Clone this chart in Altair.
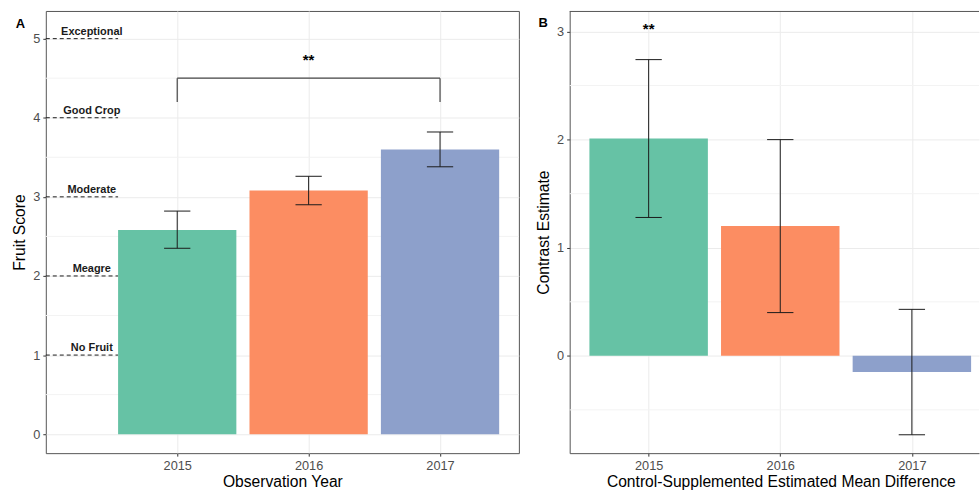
import altair as alt
import pandas as pd

# ---- data -------------------------------------------------------------
years = [2015, 2016, 2017]
bar_colors = ["#66c2a5", "#fc8d62", "#8da0cb"]

# Panel A: fruit score by observation year (mean with interval)
fruit_mean = [2.58, 3.08, 3.60]
fruit_lo = [2.35, 2.90, 3.38]
fruit_hi = [2.82, 3.26, 3.82]

# Panel B: control - supplemented contrast estimates
contrast_est = [2.01, 1.20, -0.15]
contrast_lo = [1.28, 0.40, -0.73]
contrast_hi = [2.74, 2.00, 0.43]

# Fruit score reference levels
level_values = [1, 2, 3, 4, 5]
level_names = ["No Fruit", "Meagre", "Moderate", "Good Crop", "Exceptional"]

# Significance bracket (panel A) and star marks
bracket_years = [2015, 2017]
bracket_top = 4.5
bracket_foot = 4.2
star_a = {"year": 2016, "y": 4.67}
star_b = {"year": 2015, "y": 2.98}

minor_a = [0.5, 1.5, 2.5, 3.5, 4.5]
minor_b = [-0.5, 0.5, 1.5, 2.5]

# ---- styling constants --------------------------------------------------
FONT = "Liberation Sans"
BAR_HALF = 0.45
CAP_HALF = 0.1
MINOR_COLOR = "#f3f3f3"
FRAME = "#555555"

df_a = pd.DataFrame({"year": years, "mean": fruit_mean, "lo": fruit_lo, "hi": fruit_hi})
df_b = pd.DataFrame({"year": years, "mean": contrast_est, "lo": contrast_lo, "hi": contrast_hi})
df_levels = pd.DataFrame({"level": level_values, "name": level_names})

color_scale = alt.Scale(domain=years, range=bar_colors)


def bar_layers(df, x_scale, y_scale, x_axis, y_axis):
    base = alt.Chart(df).transform_calculate(
        x0=f"datum.year - {BAR_HALF}",
        x1=f"datum.year + {BAR_HALF}",
        c0=f"datum.year - {CAP_HALF}",
        c1=f"datum.year + {CAP_HALF}",
        zero="0",
    )
    bars = base.mark_rect().encode(
        x=alt.X("x0:Q", scale=x_scale, axis=x_axis),
        x2="x1:Q",
        y=alt.Y("mean:Q", scale=y_scale, axis=y_axis),
        y2="zero:Q",
        color=alt.Color("year:N", scale=color_scale, legend=None),
    )
    stem = base.mark_rule(color="#1a1a1a", strokeWidth=1).encode(
        x="year:Q", y="lo:Q", y2="hi:Q"
    )
    cap_lo = base.mark_rule(color="#1a1a1a", strokeWidth=1).encode(
        x="c0:Q", x2="c1:Q", y="lo:Q"
    )
    cap_hi = base.mark_rule(color="#1a1a1a", strokeWidth=1).encode(
        x="c0:Q", x2="c1:Q", y="hi:Q"
    )
    return bars, stem, cap_lo, cap_hi


def minor_grid(values):
    return alt.Chart(pd.DataFrame({"v": values})).mark_rule(
        color=MINOR_COLOR, strokeWidth=1
    ).encode(y="v:Q")


def panel_tag(letter, dx, dy):
    return alt.Chart(pd.DataFrame({"t": [letter]})).mark_text(
        font=FONT, fontSize=13, fontWeight="bold", align="center",
        baseline="alphabetic", color="black",
    ).encode(x=alt.value(dx), y=alt.value(dy), text="t:N")


# ---- panel A -------------------------------------------------------------
xs_a = alt.Scale(domain=[2014.0, 2017.6], nice=False, zero=False)
ys_a = alt.Scale(domain=[-0.24, 5.35], nice=False, zero=False)
xax_a = alt.Axis(title="Observation Year", values=years, format="d", grid=True,
                 domain=False)
yax_a = alt.Axis(title="Fruit Score", values=level_values + [0], format="d",
                 grid=True, domain=False)

bars_a, stem_a, lo_a, hi_a = bar_layers(df_a, xs_a, ys_a, xax_a, yax_a)

levels_base = alt.Chart(df_levels).transform_calculate(
    x0="2014.0",
    x1=f"2015 - {BAR_HALF}",
    tx="2014.35",
    ty="datum.level + 0.05",
)
level_lines = levels_base.mark_rule(color="#1a1a1a", strokeWidth=1,
                                    strokeDash=[4, 3]).encode(
    x="x0:Q", x2="x1:Q", y="level:Q"
)
level_text = levels_base.mark_text(font=FONT, fontSize=11, fontWeight="bold",
                                   color="#1a1a1a", baseline="alphabetic",
                                   align="center").encode(
    x="tx:Q", y="ty:Q", text="name:N"
)

br = pd.DataFrame({"year": bracket_years, "top": bracket_top, "foot": bracket_foot})
bracket_legs = alt.Chart(br).mark_rule(color="#444444", strokeWidth=1.2).encode(
    x="year:Q", y="foot:Q", y2="top:Q"
)
bracket_span = alt.Chart(br).mark_rule(color="#444444", strokeWidth=1.2).encode(
    x="min(year):Q", x2="max(year):Q", y="min(top):Q"
)
stars_a = alt.Chart(pd.DataFrame([star_a])).mark_text(
    font=FONT, fontSize=15, fontWeight="bold", color="black",
    baseline="alphabetic", align="center",
).encode(x="year:Q", y="y:Q", text=alt.value("**"))

panel_a = alt.layer(
    minor_grid(minor_a), level_lines, bars_a, stem_a, lo_a, hi_a,
    bracket_legs, bracket_span, stars_a, level_text,
    panel_tag("A", -25.5, 16.7),
).properties(width=475, height=444)

# ---- panel B -------------------------------------------------------------
xs_b = alt.Scale(domain=[2014.4, 2017.51], nice=False, zero=False)
ys_b = alt.Scale(domain=[-0.9, 3.19], nice=False, zero=False)
xax_b = alt.Axis(title="Control-Supplemented Estimated Mean Difference",
                 values=years, format="d", grid=True, domain=True,
                 domainColor=FRAME, titleX=212, titleAlign="center")
yax_b = alt.Axis(title="Contrast Estimate", values=[0, 1, 2, 3], format="d",
                 grid=True, domain=True, domainColor=FRAME)

bars_b, stem_b, lo_b, hi_b = bar_layers(df_b, xs_b, ys_b, xax_b, yax_b)

top_edge = alt.Chart(pd.DataFrame({"t": [0]})).mark_rule(
    color=FRAME, strokeWidth=1
).encode(y=alt.value(0.5))

stars_b = alt.Chart(pd.DataFrame([star_b])).mark_text(
    font=FONT, fontSize=15, fontWeight="bold", color="black",
    baseline="alphabetic", align="center",
).encode(x="year:Q", y="y:Q", text=alt.value("**"))

panel_b = alt.layer(
    minor_grid(minor_b), bars_b, stem_b, lo_b, hi_b, stars_b, top_edge,
    panel_tag("B", -26.5, 16),
).properties(width=411, height=444, view=alt.ViewBackground(stroke="transparent"))

chart = alt.hconcat(panel_a, panel_b, spacing=15).properties(
    padding={"left": 11, "top": 9, "right": 0, "bottom": 0},
    background="white",
).configure_view(stroke=FRAME, strokeWidth=1).configure_axis(
    labelFont=FONT, labelFontSize=12.8, labelColor="#4d4d4d",
    tickColor="#333333", tickSize=3, labelPadding=3,
    titleFont=FONT, titleFontSize=15.7, titleFontWeight="normal",
    titleColor="black", titlePadding=5,
    gridColor="#ebebeb", gridWidth=1,
).configure_axisX(titlePadding=3)

chart.save("out.html", embed_options={"renderer": "svg", "actions": False})
